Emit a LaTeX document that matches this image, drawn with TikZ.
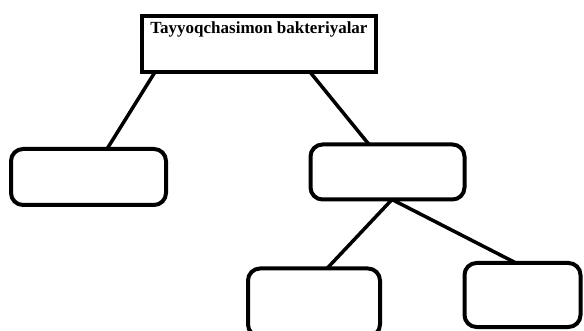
\documentclass[tikz,border=0pt]{standalone}
\usepackage{fontspec}
\setmainfont{Liberation Serif}

\begin{document}
\begin{tikzpicture}
[x=1pt,y=-1pt,line width=3.5pt,%
  every node/.style={draw,outer sep=0pt,inner sep=0pt},%
  head/.style={rectangle,line width=4.5pt},%
  leaf/.style={rounded corners=12pt,line width=4pt}]
\useasboundingbox (0,0) rectangle (584,331);
\node[head,minimum width=234pt,minimum height=56pt,
  label={[draw=none,anchor=north,yshift=-6pt,font=\fontsize{17}{20}\selectfont\bfseries]north:Tayyoqchasimon bakteriyalar}]
  (top) at (259,44) {};
\node[leaf,minimum width=155pt,minimum height=56pt] (left) at (88.5,177) {};
\node[leaf,minimum width=154pt,minimum height=55pt] (mid) at (387.5,172) {};
\node[leaf,minimum width=132pt,minimum height=68pt] (botl) at (314,302.5) {};
\node[leaf,minimum width=116pt,minimum height=64pt] (botr) at (522.5,295) {};
\draw ([xshift=13pt]top.south west) -- ([xshift=18.5pt]left.north);
\draw ([xshift=168pt]top.south west) -- ([xshift=-18.5pt]mid.north);
\draw ([xshift=4.5pt]mid.south) -- ([xshift=13pt]botl.north);
\draw ([xshift=4.5pt]mid.south) -- ([xshift=-6.5pt]botr.north);
\end{tikzpicture}
\end{document}
